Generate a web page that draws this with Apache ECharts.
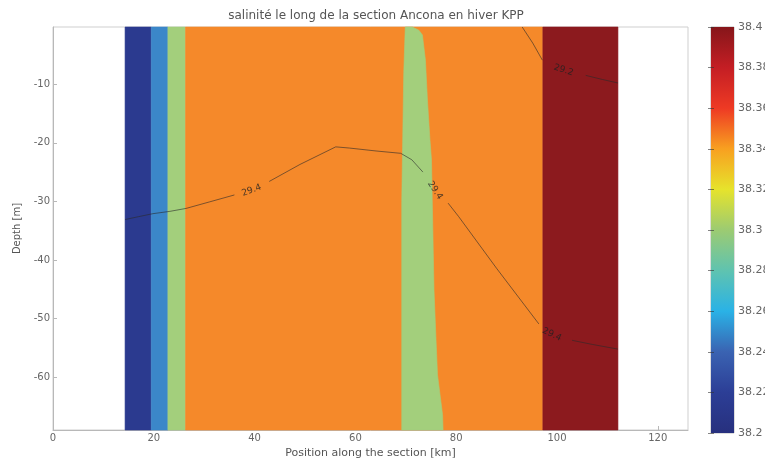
<!DOCTYPE html>
<html>
<head>
<meta charset="utf-8">
<script src="https://cdn.jsdelivr.net/npm/echarts@6/dist/echarts.min.js"></script>
<style>html,body{margin:0;padding:0;background:#fff;}#c{width:765px;height:460px;}</style>
</head>
<body>
<div id="c"></div>
<script>
// ---------- data ----------
const titleText = 'salinité le long de la section Ancona en hiver KPP';
const xName = 'Position along the section [km]';
const yName = 'Depth [m]';
const xRange = [0, 126];
const yRange = [-69, -0.25];
const xTicks = [0, 20, 40, 60, 80, 100, 120];
const yTicks = [-60, -50, -40, -30, -20, -10];
const cbRange = [38.2, 38.4];
const cbTicks = [38.2, 38.22, 38.24, 38.26, 38.28, 38.3, 38.32, 38.34, 38.36, 38.38, 38.4];

// vertical salinity bands (km edges) and their levels
const bandEdges = [14.3, 19.5, 22.8, 26.3, 97.2, 112.1];
const bandLevels = [38.21, 38.25, 38.31, 38.35, 38.39];
// second low-salinity tongue (km, depth)
const tongueLeft = [[69.9, -0.25], [69.6, -8], [69.4, -19], [69.2, -30], [69.2, -69]];
const tongueRight = [[71.3, -0.25], [72.6, -0.8], [73.3, -1.6], [73.9, -5.9], [74.3, -12.7], [74.8, -19.5], [75.1, -22.9], [75.6, -45.1], [76.0, -53.6], [76.3, -59.6], [77.3, -66.4], [77.4, -69]];
const tongueLevel = 38.31;

// contour lines (segments broken at labels)
const contour294 = [
  [[14.3, -33.1], [17, -32.6], [19.8, -32.1], [23.2, -31.7], [26.4, -31.2], [31, -30.1], [36, -28.9]],
  [[42.9, -26.6], [49, -23.7], [56.1, -20.7], [58.8, -20.9], [64.1, -21.4], [69.0, -21.8], [71.2, -22.9], [73.4, -25.0]],
  [[78.4, -30.3], [80.5, -32.6], [88, -41.4], [96.4, -50.9]],
  [[103, -53.7], [107, -54.4], [112.1, -55.2]]
];
const contour292 = [
  [[93.1, -0.25], [95.2, -3.0], [97.1, -5.9]],
  [[105.7, -8.5], [109, -9.2], [112.1, -9.8]]
];
const contourLabels = [
  [39.4, -28.1, '29.4', 20],
  [75.8, -28.1, '29.4', -57],
  [99.0, -52.7, '29.4', -25],
  [101.3, -7.6, '29.2', -18]
];

// ---------- style ----------
const bandColors = ['#2b3a8f', '#3b87c9', '#a3cf7c', '#f5892a', '#8c1a1e'];
const tongueColor = '#a3cf7c';
const jetStops = [
  [0.0, '#86161a'], [0.1, '#c41e24'], [0.2, '#ee3a24'], [0.3, '#f8a020'],
  [0.4, '#e6e32c'], [0.5, '#9ccb72'], [0.6, '#5fc3b0'], [0.7, '#2ab2e6'],
  [0.8, '#3a63b2'], [0.9, '#2c3e96'], [1.0, '#27307e']
];
const axisGray = '#b8b8b8';
const textGray = '#666';
const font = 'DejaVu Sans, Liberation Sans, sans-serif';

const polygons = [];
const polyColors = [];
for (let i = 0; i < bandLevels.length; i++) {
  polygons.push([[bandEdges[i], yRange[1]], [bandEdges[i + 1], yRange[1]], [bandEdges[i + 1], yRange[0]], [bandEdges[i], yRange[0]]]);
  polyColors.push(bandColors[i]);
}
polygons.push(tongueLeft.concat(tongueRight.slice().reverse()));
polyColors.push(tongueColor);

const chart = echarts.init(document.getElementById('c'), null, {renderer: 'canvas'});

const fmtCb = v => String(parseFloat(v.toFixed(2)));

chart.setOption({
  animation: false,
  backgroundColor: '#fff',
  title: {
    text: titleText, left: 371, top: 5, textAlign: 'center',
    textStyle: {fontSize: 12, fontWeight: 'normal', color: '#555', fontFamily: font}
  },
  grid: [
    {left: 53, top: 27, width: 635, height: 403, show: true, borderColor: '#cfcfcf', borderWidth: 1, backgroundColor: 'transparent', containLabel: false, outerBoundsMode: 'none'},
    {left: 711, top: 27, width: 23, height: 406, show: true, borderColor: '#bbb', borderWidth: 1, containLabel: false, outerBoundsMode: 'none'}
  ],
  xAxis: [
    {
      type: 'value', gridIndex: 0, min: xRange[0], max: xRange[1],
      name: xName, nameLocation: 'middle', nameGap: 14,
      nameTextStyle: {fontSize: 11, color: '#555', fontFamily: font},
      axisLine: {show: true, lineStyle: {color: axisGray}},
      axisTick: {show: true, inside: true, length: 4, lineStyle: {color: axisGray}, customValues: xTicks},
      axisLabel: {color: textGray, fontSize: 10, fontFamily: font, margin: 3, customValues: xTicks},
      splitLine: {show: false}
    },
    {type: 'value', gridIndex: 1, min: 0, max: 1, show: false}
  ],
  yAxis: [
    {
      type: 'value', gridIndex: 0, min: yRange[0], max: yRange[1],
      name: yName, nameLocation: 'middle', nameGap: 31, nameRotate: 90,
      nameTextStyle: {fontSize: 10, color: '#555', fontFamily: font},
      axisLine: {show: true, lineStyle: {color: axisGray}},
      axisTick: {show: true, inside: true, length: 4, lineStyle: {color: axisGray}, customValues: yTicks},
      axisLabel: {color: textGray, fontSize: 10, fontFamily: font, margin: 3, customValues: yTicks},
      splitLine: {show: false}
    },
    {
      type: 'value', gridIndex: 1, min: cbRange[0], max: cbRange[1], position: 'right', z: 10,
      axisLine: {show: false},
      axisTick: {show: true, inside: true, length: 3, lineStyle: {color: '#333', opacity: 0.6}, customValues: cbTicks},
      axisLabel: {color: textGray, fontSize: 11, fontFamily: font, margin: 4, customValues: cbTicks, formatter: fmtCb},
      splitLine: {show: false}
    },
    {
      type: 'value', gridIndex: 1, min: cbRange[0], max: cbRange[1], position: 'left', z: 10,
      axisLine: {show: false},
      axisTick: {show: true, inside: true, length: 3, lineStyle: {color: '#333', opacity: 0.6}, customValues: cbTicks},
      axisLabel: {show: false},
      splitLine: {show: false}
    }
  ],
  series: [
    {
      type: 'custom', xAxisIndex: 0, yAxisIndex: 0, z: 2,
      data: polygons.map(p => p[0]),
      renderItem: function (params, api) {
        const poly = polygons[params.dataIndex];
        const pts = poly.map(p => api.coord(p));
        return {type: 'polygon', shape: {points: pts},
          style: {fill: polyColors[params.dataIndex], stroke: polyColors[params.dataIndex], lineWidth: 0.6}};
      }
    },
    {
      type: 'lines', coordinateSystem: 'cartesian2d', xAxisIndex: 0, yAxisIndex: 0, polyline: true, z: 4,
      lineStyle: {color: '#2a2a2a', width: 0.8, opacity: 0.75},
      data: contour294.concat(contour292).map(c => ({coords: c}))
    },
    {
      type: 'scatter', xAxisIndex: 0, yAxisIndex: 0, symbolSize: 0, z: 5,
      data: contourLabels.map(l => ({
        value: [l[0], l[1]],
        label: {show: true, position: 'inside', formatter: l[2], rotate: l[3],
          fontSize: 9, color: '#222', fontFamily: font}
      }))
    },
    {
      type: 'custom', xAxisIndex: 1, yAxisIndex: 1, z: 2,
      data: [[0, cbRange[0], 1, cbRange[1]]],
      renderItem: function (params, api) {
        const p0 = api.coord([api.value(0), api.value(1)]);
        const p1 = api.coord([api.value(2), api.value(3)]);
        return {type: 'rect', shape: {x: p0[0], y: p1[1], width: p1[0] - p0[0], height: p0[1] - p1[1]},
          style: {fill: new echarts.graphic.LinearGradient(0, 0, 0, 1, jetStops.map(s => ({offset: s[0], color: s[1]})))}};
      }
    }
  ]
});
</script>
</body>
</html>
